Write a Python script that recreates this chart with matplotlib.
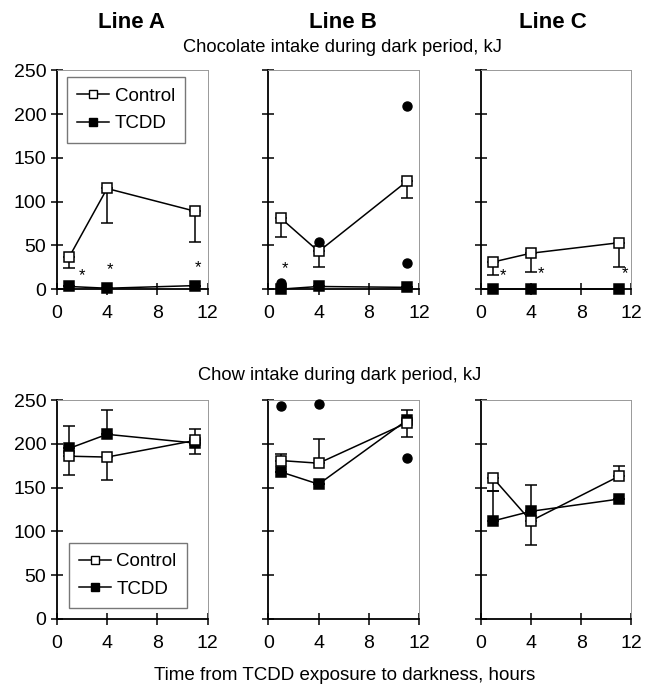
import matplotlib
matplotlib.use("Agg")
import matplotlib.pyplot as plt
from matplotlib.lines import Line2D

plt.rcParams['font.family'] = ['Liberation Sans', 'DejaVu Sans']

hours = [1, 4, 11]
lines = ["Line A", "Line B", "Line C"]

# Chocolate intake (kJ)
choc_ctrl = [[37, 115, 89], [81, 43, 123], [31, 41, 53]]
choc_ctrl_lo = [[13, 39, 35], [21, 18, 19], [15, 22, 28]]
choc_tcdd = [[3, 1, 4], [0, 3, 2], [0, 0, 0]]
choc_dots_x = [[], [1, 1, 4, 11, 11], []]
choc_dots_y = [[], [7, 3, 54, 209, 30], []]
star_x = [[2, 4.2, 11.2], [1.3], [1.8, 4.8, 11.5]]
star_y = [[15, 22, 25], [23], [15, 18, 18]]

# Chow intake (kJ)
chow_ctrl = [[186, 185, 204], [181, 178, 224], [161, 112, 163]]
chow_ctrl_lo = [[22, 26, 15], [0, 0, 16], [15, 28, 0]]
chow_ctrl_hi = [[0, 0, 0], [8, 28, 15], [0, 0, 12]]
chow_tcdd = [[195, 211, 201], [168, 154, 227], [112, 123, 137]]
chow_tcdd_hi = [[26, 28, 16], [0, 0, 0], [34, 30, 0]]
chow_dots_x = [[], [1, 4, 11], []]
chow_dots_y = [[], [243, 246, 184], []]

fig = plt.figure(figsize=(6.45, 6.9), dpi=100)
lefts = [0.088, 0.416, 0.745]
w = 0.234
bottoms = [0.581, 0.103]
h = 0.317


def style_axes(ax, show_y):
    ax.set_xlim(0, 12)
    ax.set_ylim(0, 250)
    ax.set_xticks([0, 4, 8, 12])
    ax.set_yticks([0, 50, 100, 150, 200, 250])
    for s in ["left", "bottom"]:
        ax.spines[s].set_linewidth(1.3)
        ax.spines[s].set_color("black")
    for s in ["top", "right"]:
        ax.spines[s].set_linewidth(0.7)
        ax.spines[s].set_color("#999999")
    ax.tick_params(direction="inout", length=9, width=1.1, labelsize=14,
                   top=False, right=False, pad=3)
    ax.tick_params(axis="x", pad=7)
    if not show_y:
        ax.set_yticklabels([])


def plot_series(ax, y, lo, hi, filled):
    ax.errorbar(hours, y, yerr=[lo, hi], fmt="s-", color="black", lw=1.1,
                ms=7, mec="black", mew=1.1,
                mfc="black" if filled else "white",
                ecolor="black", elinewidth=1.1, capsize=4, capthick=1.1,
                clip_on=False, zorder=3)


def add_legend(ax, loc, anchor):
    hnd = [Line2D([], [], color="black", lw=1.1, marker="s", ms=6,
                  mfc="white", mec="black"),
           Line2D([], [], color="black", lw=1.1, marker="s", ms=6,
                  mfc="black", mec="black")]
    ax.legend(hnd, ["Control", "TCDD"], loc=loc, bbox_to_anchor=anchor,
              borderaxespad=0, fontsize=13.5, fancybox=False,
              edgecolor="#777777", framealpha=1, handlelength=1.7,
              handletextpad=0.3, borderpad=0.55, labelspacing=0.55)


for i in range(3):
    ax = fig.add_axes([lefts[i], bottoms[0], w, h])
    style_axes(ax, i == 0)
    plot_series(ax, choc_tcdd[i], [0, 0, 0], [0, 0, 0], True)
    plot_series(ax, choc_ctrl[i], choc_ctrl_lo[i], [0, 0, 0], False)
    if choc_dots_x[i]:
        ax.plot(choc_dots_x[i], choc_dots_y[i], "o", color="black", ms=6.5,
                clip_on=False, zorder=4)
    for sx, sy in zip(star_x[i], star_y[i]):
        ax.text(sx, sy, "*", ha="center", va="center", fontsize=12)
    if i == 0:
        add_legend(ax, "upper left", (0.066, 0.968))

    ax2 = fig.add_axes([lefts[i], bottoms[1], w, h])
    style_axes(ax2, i == 0)
    plot_series(ax2, chow_tcdd[i], [0, 0, 0], chow_tcdd_hi[i], True)
    plot_series(ax2, chow_ctrl[i], chow_ctrl_lo[i], chow_ctrl_hi[i], False)
    if chow_dots_x[i]:
        ax2.plot(chow_dots_x[i], chow_dots_y[i], "o", color="black", ms=6.5,
                 clip_on=False, zorder=4)
    if i == 0:
        add_legend(ax2, "lower left", (0.079, 0.05))

# Headings
for x, t in zip([132, 343, 553], lines):
    fig.text(x / 645, 1 - 22 / 690, t, ha="center", va="center",
             fontsize=16, fontweight="bold")
fig.text(342 / 645, 1 - 47 / 690, "Chocolate intake during dark period, kJ",
         ha="center", va="center", fontsize=13.2)
fig.text(340 / 645, 1 - 375 / 690, "Chow intake during dark period, kJ",
         ha="center", va="center", fontsize=13.2)
fig.text(345 / 645, 1 - 676 / 690, "Time from TCDD exposure to darkness, hours",
         ha="center", va="center", fontsize=13.5)

fig.savefig("out.png", dpi=100)
